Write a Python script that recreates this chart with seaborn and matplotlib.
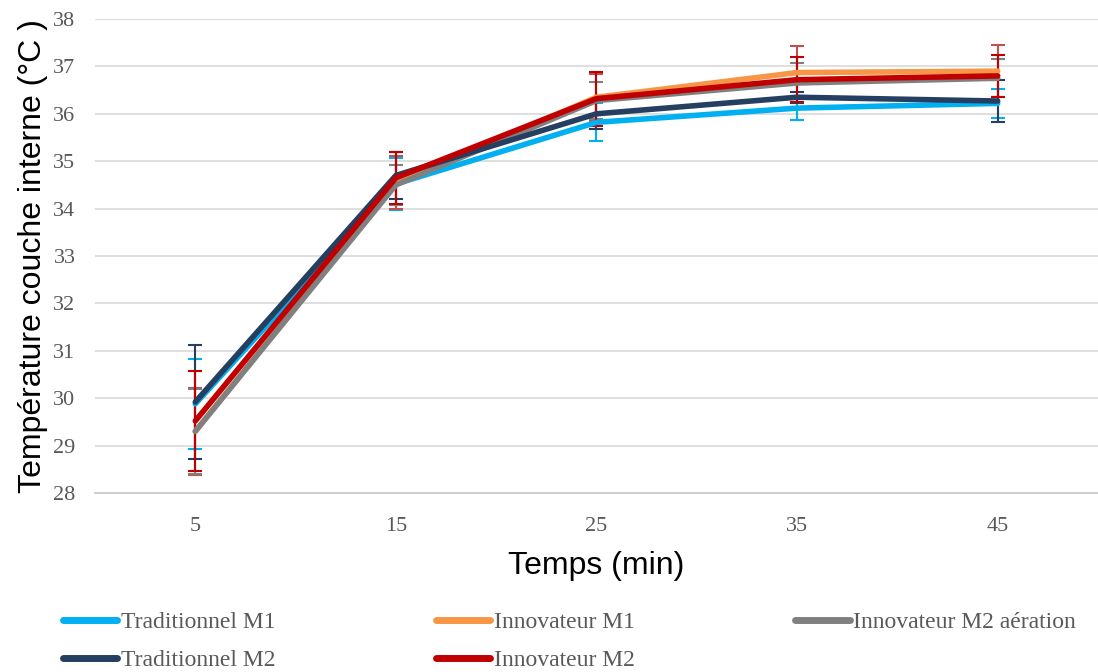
import matplotlib
matplotlib.use("Agg")
import matplotlib.pyplot as plt
import seaborn as sns
import pandas as pd
import numpy as np

temps = [5, 15, 25, 35, 45]
series_names = ["Traditionnel M1", "Innovateur M1", "Innovateur M2 aération",
                "Traditionnel M2", "Innovateur M2"]
trad_m1 = [29.88, 34.52, 35.82, 36.12, 36.22]
innov_m1 = [29.30, 34.55, 36.35, 36.87, 36.90]
innov_m2_aer = [29.30, 34.50, 36.28, 36.65, 36.75]
trad_m2 = [29.92, 34.70, 36.00, 36.35, 36.27]
innov_m2 = [29.52, 34.65, 36.32, 36.72, 36.80]

err_trad_m1 = [0.95, 0.55, 0.40, 0.25, 0.30]
err_innov_m1 = [0.92, 0.55, 0.50, 0.56, 0.55]
err_innov_m2_aer = [0.90, 0.42, 0.40, 0.42, 0.40]
err_trad_m2 = [1.20, 0.50, 0.32, 0.12, 0.45]
err_innov_m2 = [1.05, 0.55, 0.57, 0.48, 0.44]

line_colors = ["#00B0F0", "#F79646", "#808080", "#243F60", "#C00000"]
err_colors = ["#00B0F0", "#C0504D", "#7F7F7F", "#243F60", "#C00000"]

values = [trad_m1, innov_m1, innov_m2_aer, trad_m2, innov_m2]
errors = [err_trad_m1, err_innov_m1, err_innov_m2_aer, err_trad_m2, err_innov_m2]

df = pd.DataFrame({
    "Temps": temps * len(series_names),
    "Valeur": sum(values, []),
    "Série": np.repeat(series_names, len(temps)),
})

sns.set_theme(style="white")
plt.rcParams["font.family"] = ["Liberation Serif", "DejaVu Serif"]

fig = plt.figure(figsize=(10.98, 6.72), dpi=100)
ax = fig.add_axes([0.0865, 0.2664, 0.9135, 0.7053])

# error bars first (underneath lines)
for name, v, e, c in zip(series_names, values, errors, err_colors):
    ax.errorbar(temps, v, yerr=e, fmt="none", ecolor=c, elinewidth=1.5,
                capsize=5, capthick=1.5, zorder=2)

sns.lineplot(data=df, x="Temps", y="Valeur", hue="Série", hue_order=series_names,
             palette=line_colors, linewidth=4, ax=ax, legend=True,
             solid_capstyle="round", zorder=3)

ax.set_xlim(0, 50)
ax.set_ylim(28, 38)
ax.set_xticks(temps)
ax.set_yticks(range(28, 39))
ax.grid(axis="y", color="#D9D9D9", linewidth=1.2)
ax.grid(axis="x", visible=False)
for s in ["top", "right", "left"]:
    ax.spines[s].set_visible(False)
ax.spines["bottom"].set_color("#D0D0D0")
ax.spines["bottom"].set_linewidth(1.5)
ax.tick_params(axis="both", length=0, labelsize=16, labelcolor="#595959")
ax.tick_params(axis="y", pad=14)
ax.tick_params(axis="x", pad=17)

ax.set_xlabel("Temps (min)", fontsize=23, family="Liberation Sans", color="black", labelpad=11)
ax.set_ylabel("Température couche interne (°C )", fontsize=23, family="Liberation Sans",
              color="black", labelpad=4)

handles, labels = ax.get_legend_handles_labels()
for h in handles:
    h.set_linewidth(5)
    h.set_solid_capstyle("round")
order = [0, 3, 1, 4, 2]
leg = ax.legend([handles[i] for i in order], [labels[i] for i in order],
                loc="upper left", bbox_to_anchor=(-0.053, -0.205),
                ncol=3, frameon=False, fontsize=17, handlelength=2.3,
                handletextpad=0.15, columnspacing=6.8, labelspacing=0.7)
for t in leg.get_texts():
    t.set_color("#595959")

fig.savefig("out.png", dpi=100)
